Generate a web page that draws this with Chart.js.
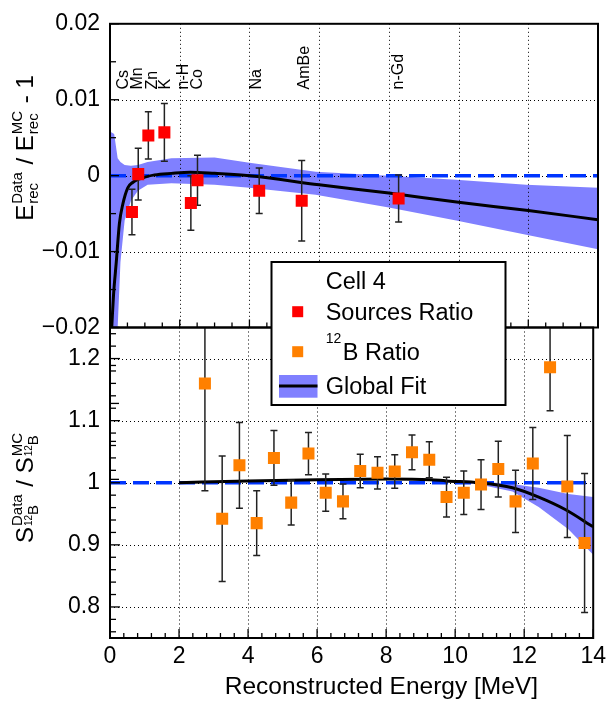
<!DOCTYPE html>
<html><head><meta charset="utf-8">
<script src="https://cdn.jsdelivr.net/npm/chart.js"></script>
<style>
html,body{margin:0;padding:0;background:#fff;}
#wrap{position:relative;width:611px;height:705px;}
canvas{position:absolute;left:0;top:0;}
</style>
</head><body>
<div id="wrap"><canvas id="cTop" width="611" height="705"></canvas><canvas id="cBot" width="611" height="705"></canvas></div>
<script>
const FONT = '"Liberation Sans", Arial, Helvetica, sans-serif';

// ---- calibration sources (top panel) ----
const SRC_NAMES   = ['Cs', 'Mn', 'Zn', 'K', 'n-H', 'Co', 'Na', 'AmBe', 'n-Gd'];
const SRC_LABEL_E = [0.38, 0.80, 1.21, 1.60, 2.10, 2.51, 4.21, 5.57, 8.29];
const SRC_E   = [0.63, 0.81, 1.10, 1.56, 2.32, 2.51, 4.28, 5.50, 8.28];
const SRC_VAL = [-0.0048, 0.0002, 0.0053, 0.0057, -0.0036, -0.0006, -0.0020, -0.0033, -0.0030];
const SRC_ERR = [0.0030, 0.0034, 0.0031, 0.0038, 0.0036, 0.0033, 0.0030, 0.0053, 0.0031];

// ---- 12B ratio (bottom panel) ----
const B12_E   = [2.75, 3.25, 3.75, 4.25, 4.75, 5.25, 5.75, 6.25, 6.75, 7.25, 7.75, 8.25,
                 8.75, 9.25, 9.75, 10.25, 10.75, 11.25, 11.75, 12.25, 12.75, 13.25, 13.75];
const B12_VAL = [1.160, 0.942, 1.028, 0.935, 1.040, 0.968, 1.047, 0.984, 0.970, 1.019, 1.016, 1.018,
                 1.049, 1.037, 0.977, 0.984, 0.997, 1.022, 0.970, 1.031, 1.186, 0.994, 0.903];
const B12_ERR = [0.173, 0.101, 0.069, 0.052, 0.044, 0.036, 0.034, 0.030, 0.028, 0.027, 0.026, 0.027,
                 0.028, 0.029, 0.032, 0.035, 0.040, 0.045, 0.050, 0.058, 0.070, 0.082, 0.112];

// ---- global fit, top panel ----
const FIT_TOP_E = [0.05, 0.10, 0.18, 0.27, 0.37, 0.51, 0.65, 0.80, 1.00, 1.28, 1.76, 2.30, 3.00, 4.00, 6.00, 8.00, 10.0, 12.0, 14.0];
const FIT_TOP_V = [-0.0200, -0.0158, -0.0114, -0.0063, -0.0037, -0.0016, -0.0009, -0.0005, -0.0002, 0.0001, 0.0003, 0.00045, 0.0003, 0.0000, -0.0012, -0.0023, -0.0035, -0.0046, -0.0058];
const BAND_TOP_E  = [0.00, 0.12, 0.22, 0.30, 0.42, 0.60, 0.80, 1.08, 1.76, 3.00, 4.00, 5.90, 8.00, 9.93, 11.94, 14.0];
const BAND_TOP_HI = [0.0058, 0.0055, 0.0023, 0.0018, 0.0014, 0.0013, 0.0014, 0.0018, 0.0023, 0.0024, 0.0017, 0.0005, 0.0000, -0.00055, -0.0012, -0.0016];
const BAND_TOP_LO = [-0.0200, -0.0200, -0.0200, -0.0114, -0.0059, -0.0033, -0.0020, -0.0012, -0.0010, -0.0012, -0.0016, -0.0025, -0.0042, -0.0059, -0.0078, -0.0097];

// ---- global fit, bottom panel ----
const FIT_BOT_E = [2.0, 4.0, 6.0, 8.0, 9.3, 9.74, 10.7, 11.66, 12.42, 13.19, 14.0];
const FIT_BOT_V = [1.000, 1.003, 1.005, 1.006, 1.005, 1.003, 1.000, 0.992, 0.977, 0.957, 0.929];
const BAND_BOT_E  = [2.0, 6.0, 9.0, 10.0, 10.7, 11.66, 12.42, 13.28, 14.0];
const BAND_BOT_HI = [1.001, 1.006, 1.007, 1.004, 1.002, 0.998, 0.992, 0.982, 0.977];
const BAND_BOT_LO = [0.999, 1.004, 1.005, 1.001, 0.997, 0.986, 0.961, 0.925, 0.884];

const REF_TOP = 0, REF_BOT = 1;

// ---- ticks ----
const X_TICKS = [0, 2, 4, 6, 8, 10, 12, 14];
const X_TICK_LABELS = ['0', '2', '4', '6', '8', '10', '12', '14'];
const TOP_TICKS = [-0.02, -0.01, 0, 0.01, 0.02];
const TOP_TICK_LABELS = ['\u22120.02', '\u22120.01', '0', '0.01', '0.02'];
const BOT_TICKS = [0.8, 0.9, 1.0, 1.1, 1.2];
const BOT_TICK_LABELS = ['0.8', '0.9', '1', '1.1', '1.2'];

const BAND = '#8080ff', RED = '#ff0000', ORANGE = '#ff8000', BLUE = '#0035ff';

const xy = (xs, ys) => xs.map((x, i) => ({x: x, y: ys[i]}));

function gridLines(chart, xs, ys) {
  const ctx = chart.ctx, a = chart.chartArea, sx = chart.scales.x, sy = chart.scales.y;
  ctx.save();
  ctx.strokeStyle = '#000'; ctx.lineWidth = 1; ctx.setLineDash([1, 3]);
  xs.forEach(v => { const p = Math.round(sx.getPixelForValue(v)) + 0.5; ctx.beginPath(); ctx.moveTo(p, a.top); ctx.lineTo(p, a.bottom); ctx.stroke(); });
  ys.forEach(v => { const p = Math.round(sy.getPixelForValue(v)) + 0.5; ctx.beginPath(); ctx.moveTo(a.left, p); ctx.lineTo(a.right, p); ctx.stroke(); });
  ctx.restore();
}
function errorBars(chart, xs, vs, es) {
  const ctx = chart.ctx, a = chart.chartArea, sx = chart.scales.x, sy = chart.scales.y;
  ctx.save();
  ctx.beginPath(); ctx.rect(a.left, a.top, a.right - a.left, a.bottom - a.top); ctx.clip();
  ctx.strokeStyle = '#222'; ctx.lineWidth = 1.5; ctx.setLineDash([]);
  xs.forEach((x, i) => {
    const px = sx.getPixelForValue(x), p1 = sy.getPixelForValue(vs[i] + es[i]), p2 = sy.getPixelForValue(vs[i] - es[i]);
    ctx.beginPath(); ctx.moveTo(px, p1); ctx.lineTo(px, p2);
    ctx.moveTo(px - 3.5, p1); ctx.lineTo(px + 3.5, p1);
    ctx.moveTo(px - 3.5, p2); ctx.lineTo(px + 3.5, p2);
    ctx.stroke();
  });
  ctx.restore();
}
function frame(chart) {
  const ctx = chart.ctx, a = chart.chartArea;
  ctx.save(); ctx.strokeStyle = '#000'; ctx.lineWidth = 2; ctx.setLineDash([]);
  ctx.strokeRect(a.left, a.top, a.right - a.left, a.bottom - a.top);
  ctx.restore();
}
function axisTicks(chart, yVals, yMajor, xVals, xMajor, yLen, xLen) {
  const ctx = chart.ctx, a = chart.chartArea, sx = chart.scales.x, sy = chart.scales.y;
  ctx.save(); ctx.strokeStyle = '#000'; ctx.lineWidth = 1.3; ctx.setLineDash([]);
  yVals.forEach((v, i) => { const p = sy.getPixelForValue(v); const L = yMajor[i] ? yLen[0] : yLen[1];
    ctx.beginPath(); ctx.moveTo(a.left, p); ctx.lineTo(a.left + L, p); ctx.stroke(); });
  xVals.forEach((v, i) => { const p = sx.getPixelForValue(v); const L = xMajor[i] ? xLen[0] : xLen[1];
    ctx.beginPath(); ctx.moveTo(p, a.bottom); ctx.lineTo(p, a.bottom - L); ctx.stroke(); });
  ctx.restore();
}
function runsWidth(ctx, runs) { let w = 0; runs.forEach(r => { ctx.font = r.s + 'px ' + FONT; w += ctx.measureText(r.t).width; }); return w; }
function drawRuns(ctx, runs, x, y) { runs.forEach(r => { ctx.font = r.s + 'px ' + FONT; ctx.fillText(r.t, x, y + (r.dy || 0)); x += ctx.measureText(r.t).width; }); return x; }
function richRotated(ctx, items, bx, cy) {
  ctx.save(); ctx.translate(bx, cy); ctx.rotate(-Math.PI / 2);
  ctx.fillStyle = '#000'; ctx.textAlign = 'left'; ctx.textBaseline = 'alphabetic';
  const ws = items.map(it => it.runs ? runsWidth(ctx, it.runs) : Math.max(runsWidth(ctx, it.sub), runsWidth(ctx, it.sup)) + 2);
  let x = -ws.reduce((p, q) => p + q, 0) / 2;
  items.forEach((it, i) => {
    if (it.runs) drawRuns(ctx, it.runs, x, 0);
    else { drawRuns(ctx, it.sub, x + 1, 5); drawRuns(ctx, it.sup, x + 1, -11); }
    x += ws[i];
  });
  ctx.restore();
}

const M = 24, S = 15;
const topPlugin = {
  id: 'topDecor',
  beforeDatasetDraw(chart, args) {
    const role = chart.data.datasets[args.index].role;
    if (role === 'ref') gridLines(chart, [2, 4, 6, 8, 10, 12], [-0.01, 0, 0.01]);
    if (role === 'pts') errorBars(chart, SRC_E, SRC_VAL, SRC_ERR);
  },
  afterDraw(chart) {
    const ctx = chart.ctx, sx = chart.scales.x;
    frame(chart);
    const yv = [], ym = [], xv = [], xm = [];
    for (let k = -8; k <= 8; k++) { yv.push(k * 0.005); ym.push(k % 2 === 0); }
    for (let k = 0; k <= 28; k++) { xv.push(k * 0.5); xm.push(k % 4 === 0); }
    axisTicks(chart, yv, ym, xv, xm, [9, 6], [8, 5]);
    // source labels
    ctx.save(); ctx.fillStyle = '#000'; ctx.textAlign = 'left'; ctx.textBaseline = 'middle';
    SRC_NAMES.forEach((n, i) => {
      ctx.save();
      ctx.font = '16px ' + FONT;
      ctx.translate(sx.getPixelForValue(SRC_LABEL_E[i]), 89.5); ctx.rotate(-Math.PI / 2); ctx.fillText(n, 0, 0);
      ctx.restore();
    });
    ctx.restore();
    richRotated(ctx, [
      {runs: [{t: 'E', s: M}]}, {sub: [{t: 'rec', s: S}], sup: [{t: 'Data', s: S}]},
      {runs: [{t: ' / E', s: M}]}, {sub: [{t: 'rec', s: S}], sup: [{t: 'MC', s: S}]},
      {runs: [{t: ' - 1', s: M}]}
    ], 33, 148);
  }
};

const LEG_FONT = 23.5;
const botPlugin = {
  id: 'botDecor',
  beforeDatasetDraw(chart, args) {
    const role = chart.data.datasets[args.index].role;
    if (role === 'ref') gridLines(chart, [2, 4, 6, 8, 10, 12], [0.8, 0.9, 1.0, 1.1, 1.2]);
    if (role === 'pts') errorBars(chart, B12_E, B12_VAL, B12_ERR);
  },
  afterDraw(chart) {
    const ctx = chart.ctx;
    frame(chart);
    const yv = [], ym = [], xv = [], xm = [];
    for (let k = 38; k <= 62; k++) { yv.push(k * 0.02); ym.push(k % 5 === 0); }
    for (let k = 0; k <= 35; k++) { xv.push(k * 0.4); xm.push(k % 5 === 0); }
    axisTicks(chart, yv, ym, xv, xm, [10, 6], [9, 5]);
    const sub12B = [{t: '12', s: 10, dy: -6}, {t: 'B', s: S}];
    richRotated(ctx, [
      {runs: [{t: 'S', s: M}]}, {sub: sub12B, sup: [{t: 'Data', s: S}]},
      {runs: [{t: ' / S', s: M}]}, {sub: sub12B, sup: [{t: 'MC', s: S}]}
    ], 33, 487.5);
    // x title
    ctx.save(); ctx.fillStyle = '#000'; ctx.font = '24.5px ' + FONT; ctx.textAlign = 'right'; ctx.textBaseline = 'middle';
    ctx.fillText('Reconstructed Energy [MeV]', 538, 687);
    ctx.restore();
    // legend
    ctx.save();
    ctx.fillStyle = '#fff'; ctx.fillRect(271.5, 262, 234, 143);
    ctx.strokeStyle = '#000'; ctx.lineWidth = 2; ctx.strokeRect(271.5, 262, 234, 143);
    ctx.fillStyle = '#000'; ctx.textAlign = 'left'; ctx.textBaseline = 'alphabetic';
    ctx.font = LEG_FONT + 'px ' + FONT;
    ctx.fillText('Cell 4', 325.7, 289.3);
    ctx.fillText('Sources Ratio', 325.7, 319.7);
    ctx.font = '14px ' + FONT; ctx.fillText('12', 325.7, 342.5);
    const w12 = ctx.measureText('12').width;
    ctx.font = LEG_FONT + 'px ' + FONT; ctx.fillText('B Ratio', 325.7 + w12 + 1.5, 360);
    ctx.fillText('Global Fit', 325.7, 394.2);
    ctx.fillStyle = RED; ctx.fillRect(292.2, 306.2, 11, 11);
    ctx.fillStyle = ORANGE; ctx.fillRect(292.2, 346.2, 11, 11);
    ctx.fillStyle = BAND; ctx.fillRect(279, 375, 38.5, 22.7);
    ctx.strokeStyle = '#000'; ctx.lineWidth = 3; ctx.beginPath(); ctx.moveTo(279, 386); ctx.lineTo(317.5, 386); ctx.stroke();
    ctx.restore();
  }
};

function yAxis(min, max, ticks, labels) {
  return {
    type: 'linear', position: 'left', min: min, max: max,
    afterBuildTicks: s => { s.ticks = ticks.map(v => ({value: v})); },
    afterFit: s => { s.width = 110; },
    ticks: {callback: (v, i) => labels[i], font: {family: FONT, size: 23}, color: '#000', padding: 10},
    grid: {display: false, drawTicks: false}, border: {display: false}
  };
}
function datasets(bandE, bandHi, bandLo, refV, fitE, fitV, ptE, ptV, ptColor) {
  return [
    {role: 'bandHi', data: xy(bandE, bandHi), showLine: true, borderColor: 'rgba(0,0,0,0)', borderWidth: 1, pointRadius: 0, fill: false, order: 10},
    {role: 'bandLo', data: xy(bandE, bandLo), showLine: true, borderColor: 'rgba(0,0,0,0)', borderWidth: 1, pointRadius: 0, fill: '-1', backgroundColor: BAND, order: 10},
    {role: 'ref', data: [{x: 0, y: refV}, {x: 14, y: refV}], showLine: true, borderColor: BLUE, borderWidth: 3.5, borderDash: [16, 7], pointRadius: 0, fill: false, order: 4},
    {role: 'fit', data: xy(fitE, fitV), showLine: true, borderColor: '#000', borderWidth: 3, pointRadius: 0, fill: false, cubicInterpolationMode: 'monotone', order: 3},
    {role: 'pts', data: xy(ptE, ptV), showLine: false, pointStyle: 'rect', pointRadius: 8.5, backgroundColor: ptColor, borderWidth: 0, order: 1}
  ];
}
const common = {responsive: false, animation: false, devicePixelRatio: 1, events: [],
  plugins: {legend: {display: false}, tooltip: {enabled: false}}};

new Chart(document.getElementById('cTop'), {
  type: 'scatter',
  data: {datasets: datasets(BAND_TOP_E, BAND_TOP_HI, BAND_TOP_LO, REF_TOP, FIT_TOP_E, FIT_TOP_V, SRC_E, SRC_VAL, RED)},
  options: Object.assign({}, common, {
    layout: {padding: {left: 0, right: 13, top: 15, bottom: 377.5}},
    scales: {
      x: {type: 'linear', display: false, min: 0, max: 14},
      y: yAxis(-0.02, 0.02, TOP_TICKS, TOP_TICK_LABELS)
    }
  }),
  plugins: [topPlugin]
});

new Chart(document.getElementById('cBot'), {
  type: 'scatter',
  data: {datasets: datasets(BAND_BOT_E, BAND_BOT_HI, BAND_BOT_LO, REF_BOT, FIT_BOT_E, FIT_BOT_V, B12_E, B12_VAL, ORANGE)},
  options: Object.assign({}, common, {
    layout: {padding: {left: 0, right: 13, top: 327.5, bottom: 0}},
    scales: {
      x: {type: 'linear', position: 'bottom', min: 0, max: 14,
        afterBuildTicks: s => { s.ticks = X_TICKS.map(v => ({value: v})); },
        afterFit: s => { s.height = 67; },
        ticks: {callback: (v, i) => X_TICK_LABELS[i], font: {family: FONT, size: 23}, color: '#000', padding: 5, maxRotation: 0, autoSkip: false},
        grid: {display: false, drawTicks: false}, border: {display: false}},
      y: yAxis(0.75, 1.25, BOT_TICKS, BOT_TICK_LABELS)
    }
  }),
  plugins: [botPlugin]
});
</script>
</body></html>
